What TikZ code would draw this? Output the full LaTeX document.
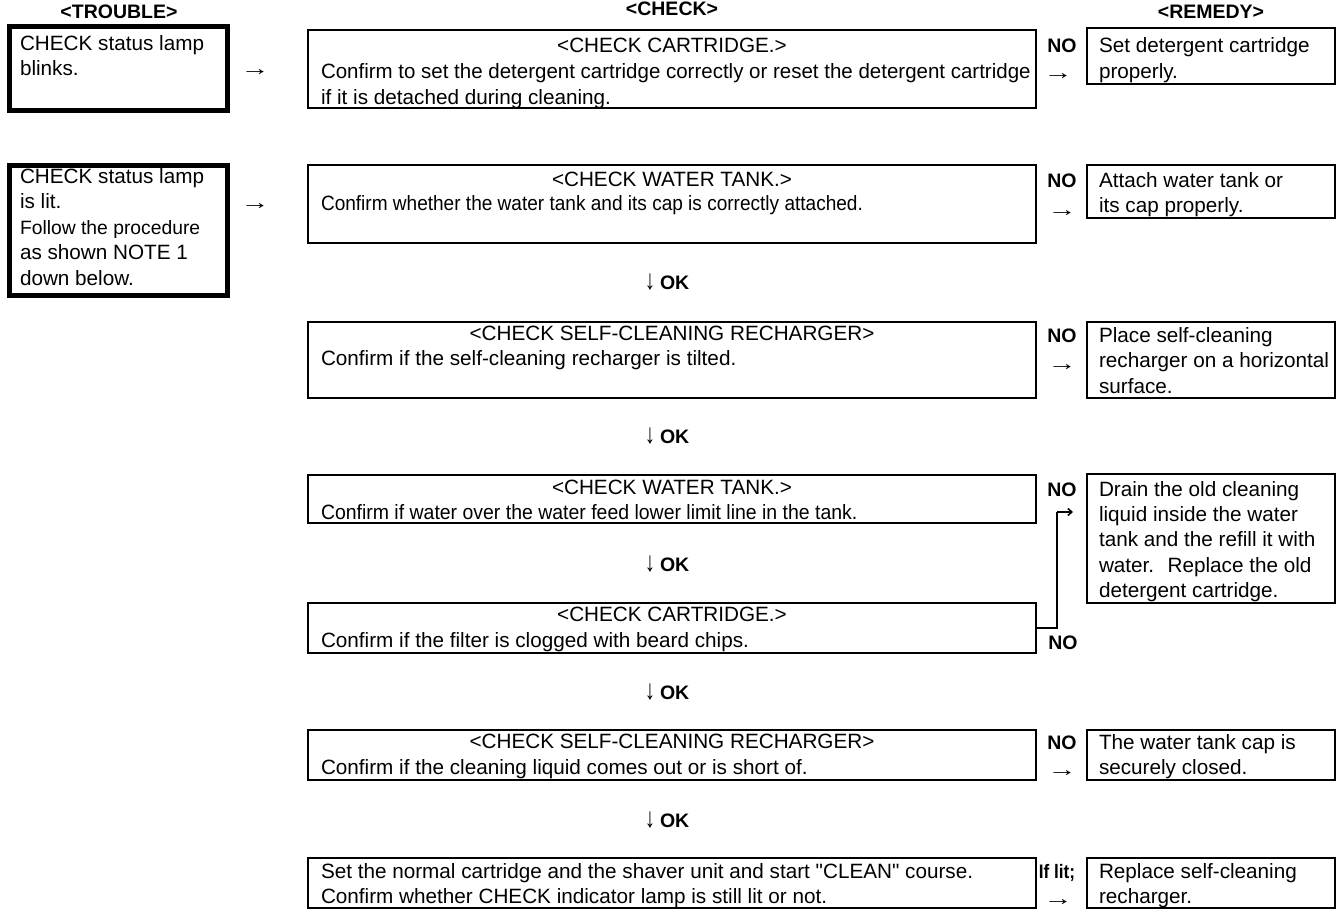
\documentclass[tikz,border=0pt]{standalone}
\usepackage{fontspec}
\setmainfont{Liberation Sans}
\usetikzlibrary{arrows.meta}
\newcommand{\rarr}{\scalebox{1.4}[1]{→}}
\newcommand{\darr}{\scalebox{1}[1.35]{↓}}
\begin{document}
\begin{tikzpicture}[x=1pt,y=-1pt,
  every node/.style={font=\fontsize{20.7}{25}\selectfont, inner sep=0pt, outer sep=0pt},
  tbox/.style={draw, line width=5pt, anchor=north west, minimum width=218pt},
  cbox/.style={draw, line width=2.4pt, anchor=north west, minimum width=728pt},
  rbox/.style={draw, line width=2.4pt, anchor=north west, minimum width=248pt},
  txt/.style={anchor=base west},
  ttl/.style={anchor=base},
  lbl/.style={anchor=base, font=\bfseries\fontsize{19.5}{23}\selectfont},
  okl/.style={anchor=base west, font=\bfseries\fontsize{19.5}{23}\selectfont},
  glyph/.style={anchor=base},
  conn/.style={line width=1.6pt, -{Straight Barb[length=4pt,width=7pt]}}]
\useasboundingbox (0,0) rectangle (1342,910);

% headers
\node[lbl] (hT) at (119,18) {<TROUBLE>};
\node[lbl] (hC) at (672,16) {<CHECK>};
\node[lbl] (hR) at (1211,18) {<REMEDY>};

% trouble boxes
\node[tbox, minimum height=84pt] (t1) at (9.5,26.5) {};
\node[txt] (t1a) at (20,50) {CHECK status lamp};
\node[txt] (t1b) at (20,75) {blinks.};
\node[tbox, minimum height=130pt] (t2) at (9.5,165.5) {};
\node[txt] (t2a) at (20,183) {CHECK status lamp};
\node[txt] (t2b) at (20,208) {is lit.};
\node[txt, font=\fontsize{19.3}{23}\selectfont] (t2c) at (20,234) {Follow the procedure};
\node[txt] (t2d) at (20,259) {as shown NOTE 1};
\node[txt] (t2e) at (20,285) {down below.};
\node[glyph] (a1) at (255,75) {\rarr};
\node[glyph] (a2) at (255,209) {\rarr};

% check boxes
\node[cbox, minimum height=78pt] (c1) at (308,30) {};
\node[ttl] (c1t) at (672,52) {<CHECK CARTRIDGE.>};
\node[txt] (c1a) at (321,78) {\scalebox{0.99}[1]{Confirm to set the detergent cartridge correctly or reset the detergent cartridge}};
\node[txt] (c1b) at (321,104) {if it is detached during cleaning.};

\node[cbox, minimum height=78pt] (c2) at (308,165) {};
\node[ttl] (c2t) at (672,186) {<CHECK WATER TANK.>};
\node[txt] (c2a) at (321,210) {\scalebox{0.92}[1]{Confirm whether the water tank and its cap is correctly attached.}};
\node[glyph] (ok1a) at (650,289) {\darr};
\node[okl] (ok1) at (660,289) {OK};

\node[cbox, minimum height=76pt] (c3) at (308,322) {};
\node[ttl] (c3t) at (672,340) {<CHECK SELF-CLEANING RECHARGER>};
\node[txt] (c3a) at (321,365) {Confirm if the self-cleaning recharger is tilted.};
\node[glyph] (ok2a) at (650,443) {\darr};
\node[okl] (ok2) at (660,443) {OK};

\node[cbox, minimum height=48pt] (c4) at (308,475) {};
\node[ttl] (c4t) at (672,494) {<CHECK WATER TANK.>};
\node[txt] (c4a) at (321,519) {\scalebox{0.94}[1]{Confirm if water over the water feed lower limit line in the tank.}};
\node[glyph] (ok3a) at (650,571) {\darr};
\node[okl] (ok3) at (660,571) {OK};

\node[cbox, minimum height=50pt] (c5) at (308,603) {};
\node[ttl] (c5t) at (672,621) {<CHECK CARTRIDGE.>};
\node[txt] (c5a) at (321,647) {Confirm if the filter is clogged with beard chips.};
\node[glyph] (ok4a) at (650,699) {\darr};
\node[okl] (ok4) at (660,699) {OK};

\node[cbox, minimum height=50pt] (c6) at (308,730) {};
\node[ttl] (c6t) at (672,748) {<CHECK SELF-CLEANING RECHARGER>};
\node[txt] (c6a) at (321,774) {Confirm if the cleaning liquid comes out or is short of.};
\node[glyph] (ok5a) at (650,827) {\darr};
\node[okl] (ok5) at (660,827) {OK};

\node[cbox, minimum height=50pt] (c7) at (308,858) {};
\node[txt] (c7a) at (321,878) {Set the normal cartridge and the shaver unit and start {\addfontfeatures{Ligatures=TeXOff}"CLEAN"} course.};
\node[txt] (c7b) at (321,903) {Confirm whether CHECK indicator lamp is still lit or not.};

% NO labels and arrows
\node[lbl] (n1) at (1062,52) {NO};
\node[glyph] (n1a) at (1058,79) {\rarr};
\node[lbl] (n2) at (1062,187) {NO};
\node[glyph] (n2a) at (1062,216) {\rarr};
\node[lbl] (n3) at (1062,342) {NO};
\node[glyph] (n3a) at (1062,370) {\rarr};
\node[lbl] (n4) at (1062,496) {NO};
\node[lbl] (n5) at (1063,649) {NO};
\node[lbl] (n6) at (1062,749) {NO};
\node[glyph] (n6a) at (1062,776) {\rarr};
\node[lbl] (n7) at (1057,878) {\scalebox{0.88}[1]{If lit;}};
\node[glyph] (n7a) at (1058,905) {\rarr};

% remedy boxes
\node[rbox, minimum height=56pt] (r1) at (1087,28) {};
\node[txt] (r1a) at (1099,52) {Set detergent cartridge};
\node[txt] (r1b) at (1099,78) {properly.};

\node[rbox, minimum height=53pt] (r2) at (1087,165) {};
\node[txt] (r2a) at (1099,187) {Attach water tank or};
\node[txt] (r2b) at (1099,212) {its cap properly.};

\node[rbox, minimum height=76pt] (r3) at (1087,322) {};
\node[txt] (r3a) at (1099,342) {Place self-cleaning};
\node[txt] (r3b) at (1099,367) {recharger on a horizontal};
\node[txt] (r3c) at (1099,393) {surface.};

\node[rbox, minimum height=129pt] (r4) at (1087,474) {};
\node[txt] (r4a) at (1099,496) {Drain the old cleaning};
\node[txt] (r4b) at (1099,521) {liquid inside the water};
\node[txt] (r4c) at (1099,546) {tank and the refill it with};
\node[txt] (r4d) at (1099,572) {water.~ Replace the old};
\node[txt] (r4e) at (1099,597) {detergent cartridge.};

\node[rbox, minimum height=50pt] (r5) at (1087,730) {};
\node[txt] (r5a) at (1099,749) {The water tank cap is};
\node[txt] (r5b) at (1099,774) {securely closed.};

\node[rbox, minimum height=50pt] (r6) at (1087,858) {};
\node[txt] (r6a) at (1099,878) {Replace self-cleaning};
\node[txt] (r6b) at (1099,903) {recharger.};

% connector from lower cartridge check to remedy
\coordinate (jn) at (1057,512);
\coordinate (r4in) at (1073,512);
\draw[line width=1.6pt] (c5.east) -| (jn);
\draw[conn] (jn) -- (r4in);
\end{tikzpicture}
\end{document}
